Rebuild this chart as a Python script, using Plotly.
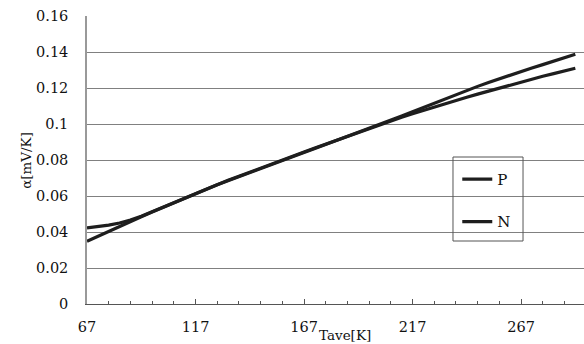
import plotly.graph_objects as go

# Average temperature Tave [K]
tave = [67, 72, 77, 82, 87, 92, 97, 102, 107, 112, 117, 122, 127, 132, 137, 142,
        147, 152, 157, 162, 167, 172, 177, 182, 187, 192, 197, 202, 207, 212, 217,
        222, 227, 232, 237, 242, 247, 252, 257, 262, 267, 272, 277, 282, 287, 292]

# Seebeck coefficient alpha [mV/K]
alpha_p = [0.0423, 0.0429, 0.0438, 0.0450, 0.0466, 0.0488, 0.0513, 0.0539, 0.0565,
           0.0591, 0.0616, 0.0640, 0.0664, 0.0687, 0.0710, 0.0733, 0.0756, 0.0778,
           0.0800, 0.0822, 0.0844, 0.0866, 0.0888, 0.0910, 0.0932, 0.0954, 0.0976,
           0.0997, 0.1018, 0.1038, 0.1057, 0.1076, 0.1095, 0.1113, 0.1131, 0.1149,
           0.1166, 0.1183, 0.1200, 0.1217, 0.1233, 0.1249, 0.1265, 0.1280, 0.1295,
           0.1310]
alpha_n = [0.0348, 0.0376, 0.0404, 0.0431, 0.0458, 0.0485, 0.0511, 0.0537, 0.0563,
           0.0589, 0.0614, 0.0638, 0.0662, 0.0685, 0.0708, 0.0731, 0.0754, 0.0776,
           0.0798, 0.0820, 0.0842, 0.0864, 0.0886, 0.0908, 0.0930, 0.0952, 0.0974,
           0.0996, 0.1020, 0.1044, 0.1068, 0.1092, 0.1116, 0.1140, 0.1163, 0.1186,
           0.1209, 0.1231, 0.1252, 0.1272, 0.1292, 0.1311, 0.1330, 0.1349, 0.1368,
           0.1388]

x_ticks = [67, 117, 167, 217, 267]
y_ticks = [0, 0.02, 0.04, 0.06, 0.08, 0.1, 0.12, 0.14, 0.16]

FONT = "DejaVu Serif"
LINE = "#1e1e1e"

fig = go.Figure()
fig.add_trace(go.Scatter(x=tave, y=alpha_p, mode="lines", name="P", legendgroup="P",
                         line=dict(color=LINE, width=3.2)))
fig.add_trace(go.Scatter(x=tave, y=alpha_n, mode="lines", name="N", legendgroup="N",
                         line=dict(color=LINE, width=3.2)))

fig.update_layout(
    width=584, height=344,
    margin=dict(l=87, r=0, t=16, b=40),
    paper_bgcolor="white", plot_bgcolor="white",
    font=dict(family=FONT, size=14.5, color="#111"),
    showlegend=True,
    legend=dict(x=0.745, y=0.49, xanchor="left", yanchor="top",
                bgcolor="rgba(0,0,0,0)", borderwidth=0,
                tracegroupgap=20, font=dict(family=FONT, size=15, color="#111")),
    xaxis=dict(range=[67, 296], tickvals=x_ticks, ticktext=[str(v) for v in x_ticks],
               ticks="inside", ticklen=5, tickcolor="#555", tickwidth=1,
               showline=True, linecolor="#555", linewidth=1.2,
               showgrid=False, zeroline=False, ticklabelstandoff=9,
               minor=dict(dtick=10, tick0=67, ticks="inside", ticklen=3,
                          tickcolor="#555", showgrid=False)),
    yaxis=dict(range=[0, 0.16], tickvals=y_ticks,
               ticktext=["0", "0.02", "0.04", "0.06", "0.08", "0.1", "0.12", "0.14", "0.16"],
               ticks="", showline=True, linecolor="#999", linewidth=1.5,
               showgrid=True, gridcolor="#808080", gridwidth=1,
               zeroline=False, ticklabelstandoff=14),
)

# axis titles
fig.add_annotation(text="Tave[K]", xref="paper", yref="paper", x=0.519, y=-0.109,
                   xanchor="center", yanchor="middle", showarrow=False,
                   font=dict(family=FONT, size=13.5, color="#111"))
fig.add_annotation(text="α[mV/K]", xref="paper", yref="paper", x=-0.123, y=0.5,
                   xanchor="center", yanchor="middle", textangle=-90, showarrow=False,
                   font=dict(family=FONT, size=13.5, color="#111"))

# legend frame
fig.add_shape(type="rect", xref="paper", yref="paper",
              x0=0.7364, x1=0.8773, y0=0.2187, y1=0.5104,
              line=dict(color="#555", width=1), fillcolor="rgba(0,0,0,0)")

fig.write_html("out.html")
